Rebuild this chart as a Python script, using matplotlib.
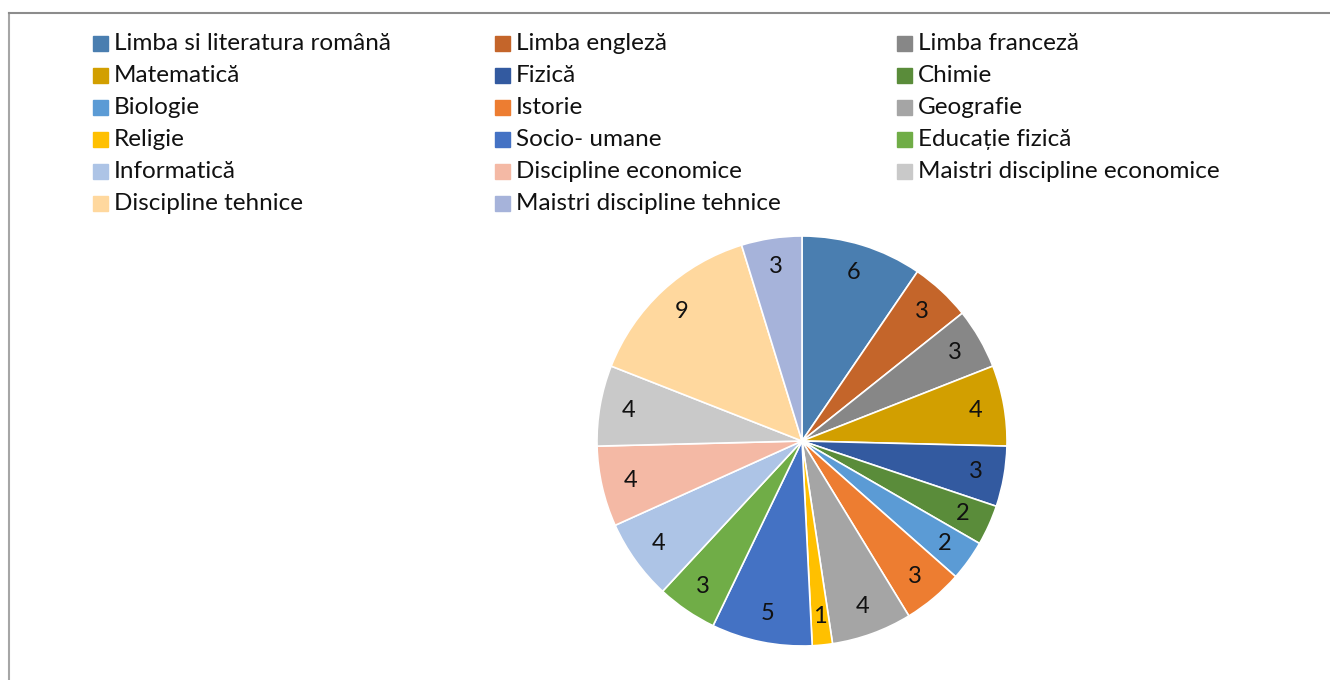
import matplotlib
matplotlib.use("Agg")
import matplotlib.pyplot as plt
from matplotlib.patches import Rectangle
from matplotlib.lines import Line2D

plt.rcParams['font.family'] = ['Lato', 'DejaVu Sans']

subjects = ["Limba si literatura română", "Limba engleză", "Limba franceză",
            "Matematică", "Fizică", "Chimie",
            "Biologie", "Istorie", "Geografie",
            "Religie", "Socio- umane", "Educație fizică",
            "Informatică", "Discipline economice", "Maistri discipline economice",
            "Discipline tehnice", "Maistri discipline tehnice"]
counts = [6, 3, 3, 4, 3, 2, 2, 3, 4, 1, 5, 3, 4, 4, 4, 9, 3]
colors = ["#4A7EB0", "#C4652A", "#878787",
          "#D29F00", "#335AA0", "#5A8C3A",
          "#5B9BD5", "#ED7D31", "#A5A5A5",
          "#FFC000", "#4472C4", "#70AD47",
          "#ADC4E6", "#F4B9A5", "#C9C9C9",
          "#FFD89E", "#A6B3DA"]

W, H = 1330, 680
fig = plt.figure(figsize=(W / 100, H / 100), dpi=100)

# chart frame (only top and left edges visible)
fig.add_artist(Line2D([9 / W, 9 / W], [0, 1 - 13 / H], color="#A6A6A6", lw=1.5))
fig.add_artist(Line2D([9 / W, 1], [1 - 13 / H, 1 - 13 / H], color="#8C8C8C", lw=1.5))

cx, cy, r = 802, 441, 205
ax = fig.add_axes([(cx - r) / W, (H - cy - r) / H, 2 * r / W, 2 * r / H])
wedges, texts = ax.pie(counts, colors=colors, startangle=90, counterclock=False,
                       labels=[str(c) for c in counts], labeldistance=0.86,
                       wedgeprops=dict(edgecolor="white", linewidth=1.2),
                       textprops=dict(fontsize=17, color="#111111"))
for t in texts:
    t.set_ha("center")
    t.set_va("center")
ax.set_xlim(-1, 1)
ax.set_ylim(-1, 1)
ax.set_aspect("equal")
ax.axis("off")

# legend: 3 columns, row by row
col_x = [93, 495, 897]
row_y0, row_dy = 44, 32
for i, (lab, col) in enumerate(zip(subjects, colors)):
    x = col_x[i % 3]
    y = row_y0 + row_dy * (i // 3)
    fig.add_artist(Rectangle((x / W, 1 - (y + 7) / H), 15 / W, 15 / H,
                             transform=fig.transFigure, color=col))
    fig.text((x + 21) / W, 1 - (y - 1) / H, lab, fontsize=17.5, color="#111111",
             va="center", ha="left")

fig.savefig("out.png", dpi=100, facecolor="white")
